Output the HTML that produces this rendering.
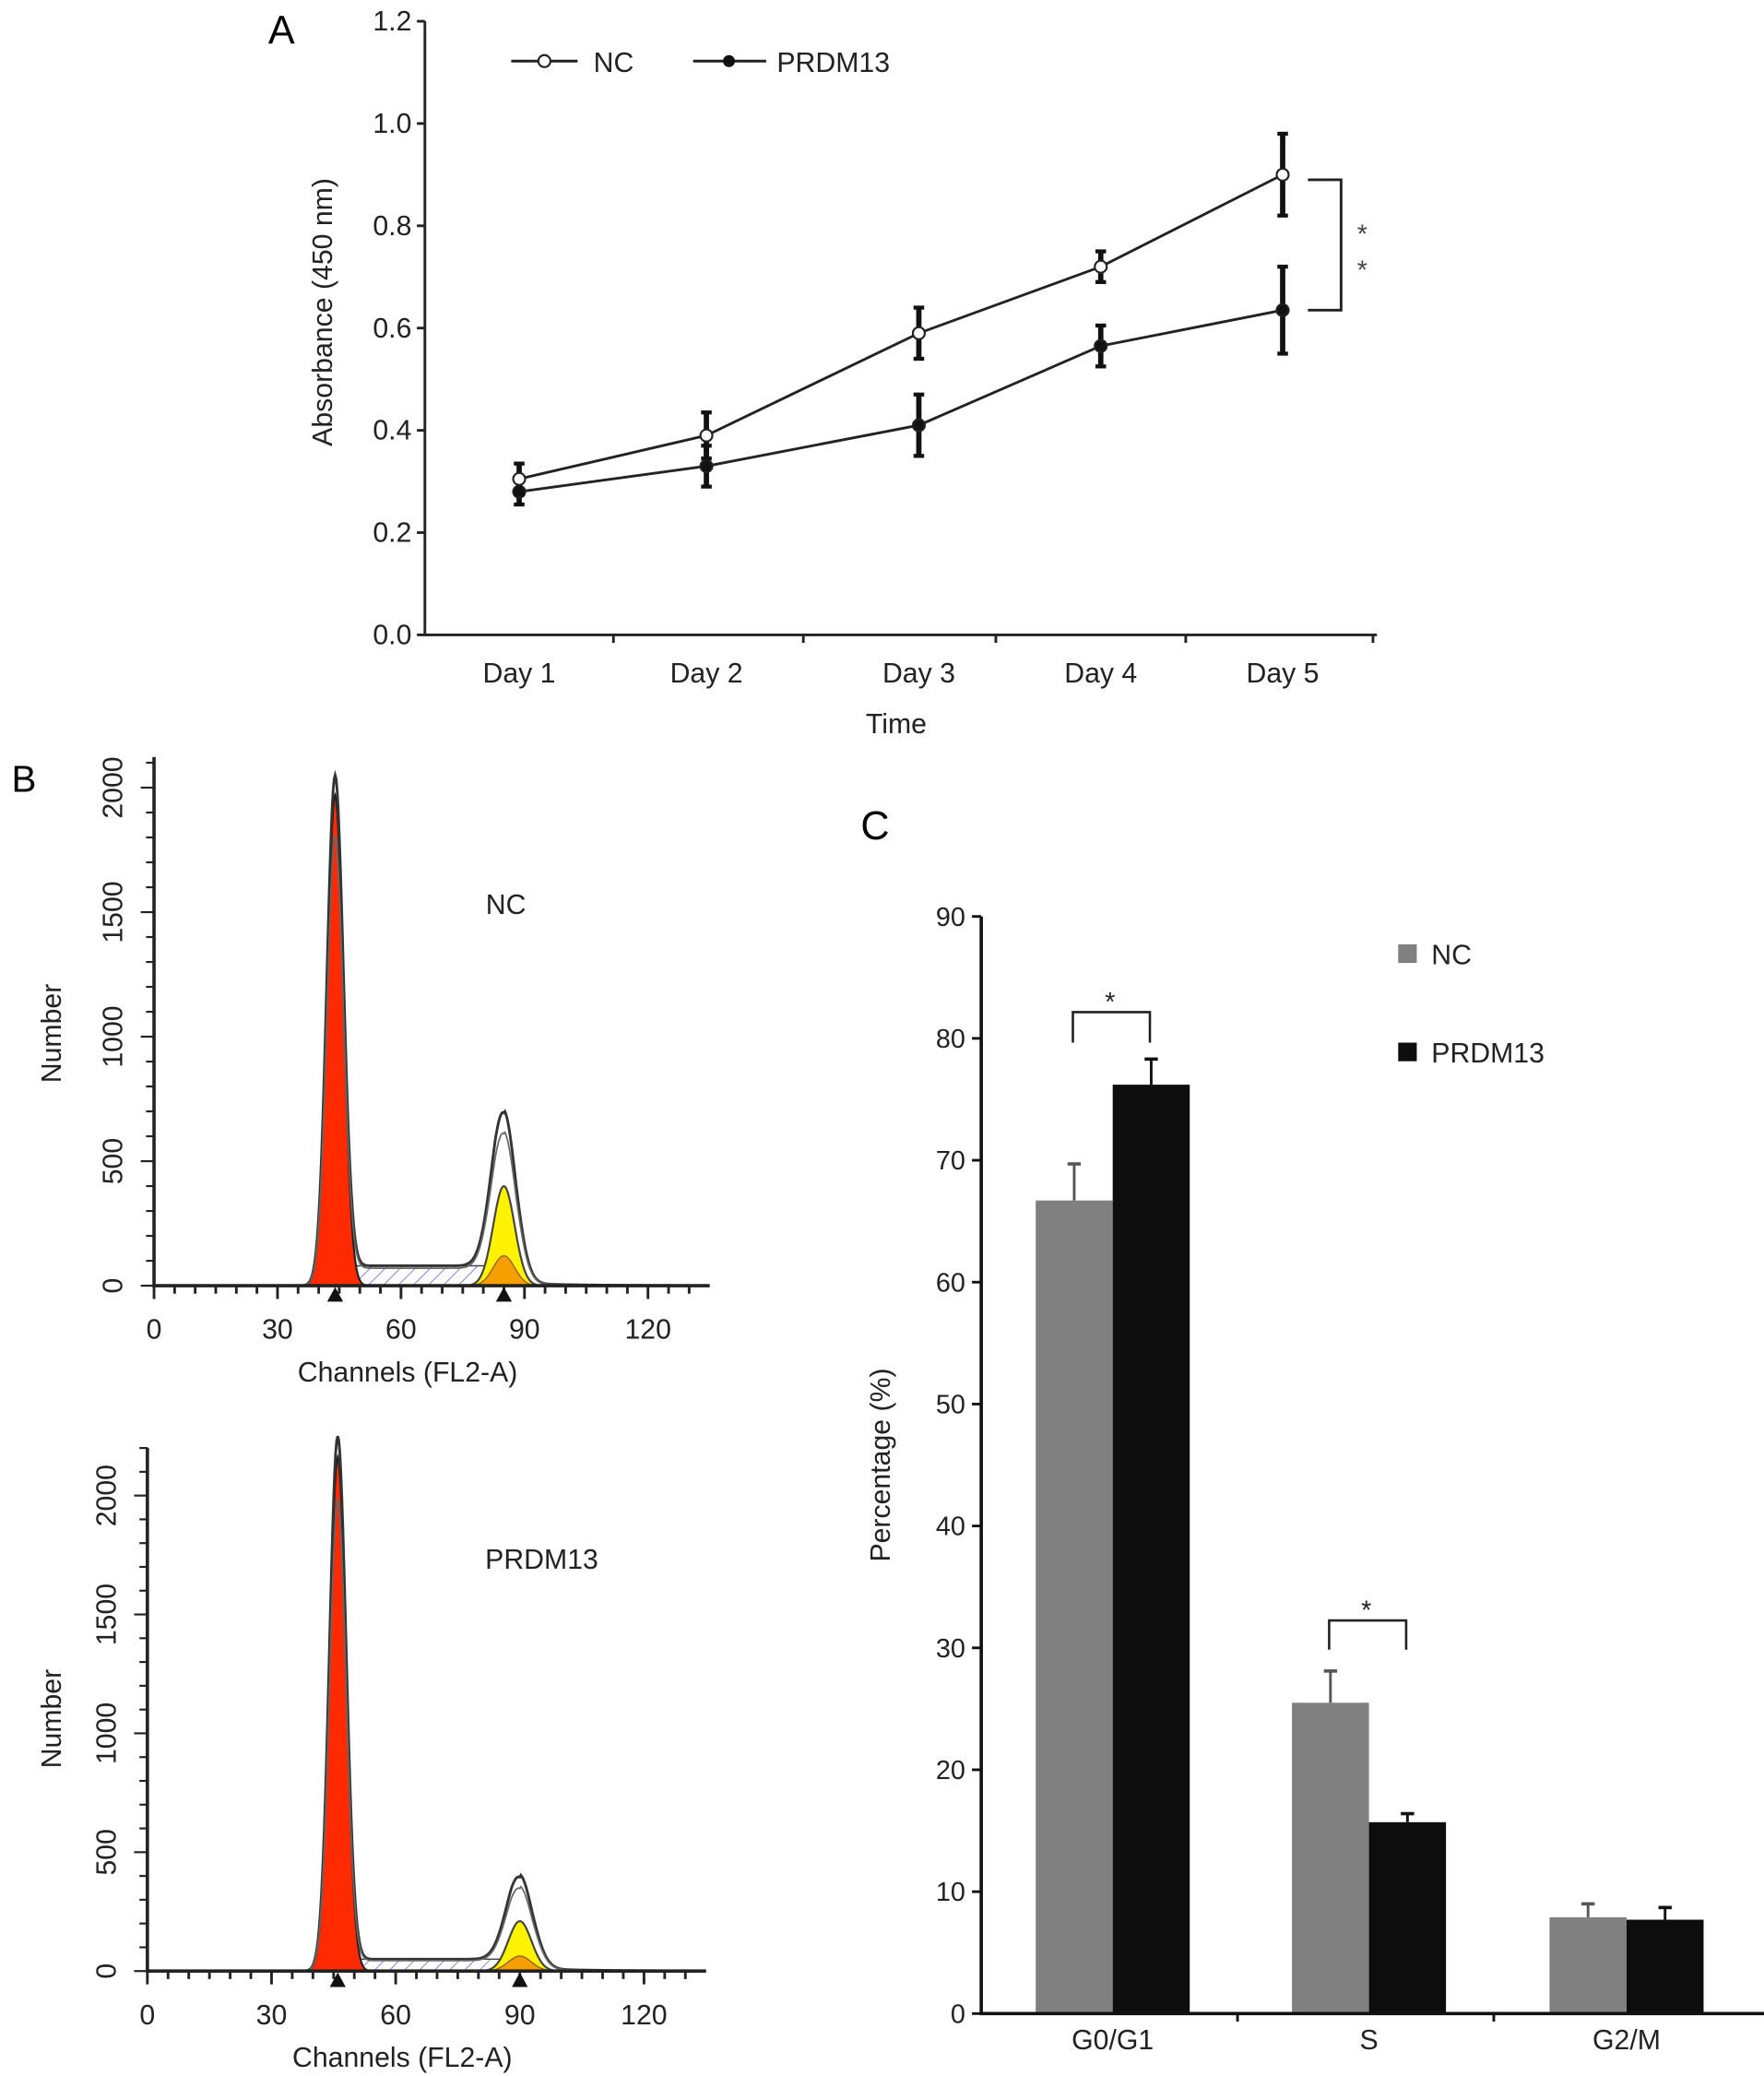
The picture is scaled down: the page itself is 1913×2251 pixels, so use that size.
<!DOCTYPE html>
<html><head><meta charset="utf-8"><style>
html,body{margin:0;padding:0;background:#fff}
svg{display:block;font-family:"Liberation Sans",Arial,sans-serif}
</style></head><body>
<svg id="fig" width="1913" height="2251" viewBox="0 0 1328.5 1563" preserveAspectRatio="none" xmlns="http://www.w3.org/2000/svg">
<rect width="1328.5" height="1563" fill="#fff"/>
<g id="pa"></g>
<g id="pb"></g>
<g id="pc"></g>
</svg>
<script>
// Panel A data
const daysA = ["Day 1","Day 2","Day 3","Day 4","Day 5"];
const ncA = [0.305,0.39,0.59,0.72,0.90];
const ncErrA = [0.03,0.045,0.05,0.03,0.08];
const prA = [0.28,0.33,0.41,0.565,0.635];
const prErrA = [0.025,0.04,0.06,0.04,0.085];
const ticksA = ["0.0","0.2","0.4","0.6","0.8","1.0","1.2"];
// Panel C data
const phasesC = ["G0/G1","S","G2/M"];
const ncC = [66.7,25.5,7.9];
const ncErrC = [3.0,2.6,1.1];
const prC = [76.2,15.7,7.7];
const prErrC = [2.1,0.7,1.0];
const ticksC = [0,10,20,30,40,50,60,70,80,90];
// Panel B data: [G1 channel, G1 height, G1 sigma, G2 channel, G2 total height, G2 fitted height, G2 sigma, S level]
const histNC = [44,2050,2.0,85,670,400,2.6,80];
const histPR = [46,2250,2.0,90,380,210,2.8,50];
const ticksBx = [0,30,60,90,120];
const ticksBy = [0,500,1000,1500,2000];

const NS="http://www.w3.org/2000/svg";
function mk(parent,tag,attrs,text){const e=document.createElementNS(NS,tag);for(const k in attrs)e.setAttribute(k,attrs[k]);if(text!==undefined)e.textContent=text;parent.appendChild(e);return e;}

// ---------- Panel A ----------
(function(){
const g=document.getElementById('pa');
const x0=320,x1=1037,yb=478,yt=16;
const y=v=>yb-(v/1.2)*(yb-yt);
const dayX=[391,532,692,829,966];
const xd=i=>dayX[i];
let t=mk(g,'text',{x:212,y:33,'font-size':30,'text-anchor':'middle'},'A');

let ax=mk(g,'path',{d:`M${x0} ${yt}V${yb}H${x1}`,stroke:'#222','stroke-width':2,fill:'none'});

ticksA.forEach((lab,i)=>{const v=parseFloat(lab);
 mk(g,'line',{x1:x0-6,x2:x0,y1:y(v),y2:y(v),stroke:'#222','stroke-width':2});
 const tt=mk(g,'text',{x:310,y:y(v)+7,'font-size':21,'text-anchor':'end',fill:'#222'},lab);
 });
[462,605,750,893,1034].forEach(px=>mk(g,'line',{x1:px,x2:px,y1:yb,y2:yb+6,stroke:'#222','stroke-width':2}));
daysA.forEach((d,i)=>{const tt=mk(g,'text',{x:xd(i),y:514,'font-size':21,'text-anchor':'middle',fill:'#222'},d);
 });
t=mk(g,'text',{x:675,y:552,'font-size':21,'text-anchor':'middle',fill:'#222'},'Time');

t=mk(g,'text',{x:0,y:0,'font-size':21,'text-anchor':'middle',fill:'#222',transform:'translate(250,235) rotate(-90)'},'Absorbance (450 nm)');

function series(vals,errs,open,name){
 const sg=mk(g,'g',{});
 mk(sg,'polyline',{points:vals.map((v,i)=>xd(i)+','+y(v)).join(' '),fill:'none',stroke:'#222','stroke-width':2});
 vals.forEach((v,i)=>{const X=xd(i);
  mk(sg,'line',{x1:X,x2:X,y1:y(v+errs[i]),y2:y(v-errs[i]),stroke:'#111','stroke-width':4});
  mk(sg,'line',{x1:X-4,x2:X+4,y1:y(v+errs[i]),y2:y(v+errs[i]),stroke:'#111','stroke-width':3});
  mk(sg,'line',{x1:X-4,x2:X+4,y1:y(v-errs[i]),y2:y(v-errs[i]),stroke:'#111','stroke-width':3});
  const c=mk(sg,'circle',{cx:X,cy:y(v),r:4.5,fill:open?'#fff':'#111',stroke:'#222','stroke-width':1.5});
  });
}
series(prA,prErrA,false,'prdm13-line');
series(ncA,ncErrA,true,'nc-line');
const bx=985,bx2=1010,ya=y(ncA[4]-0.01),yb2=y(prA[4]);
let br=mk(g,'path',{d:`M${bx} ${ya}H${bx2}V${yb2}H${bx}`,fill:'none',stroke:'#222','stroke-width':2});

mk(g,'text',{x:1026,y:183,'font-size':20,'text-anchor':'middle',fill:'#444'},'*');
mk(g,'text',{x:1026,y:210,'font-size':20,'text-anchor':'middle',fill:'#444'},'*');
const l1=mk(g,'g',{});
mk(l1,'line',{x1:385,x2:435,y1:46,y2:46,stroke:'#222','stroke-width':2});
mk(l1,'circle',{cx:410,cy:46,r:4.5,fill:'#fff',stroke:'#222','stroke-width':1.5});
mk(l1,'text',{x:447,y:54,'font-size':21,fill:'#222'},'NC');
const l2=mk(g,'g',{});
mk(l2,'line',{x1:522,x2:577,y1:46,y2:46,stroke:'#222','stroke-width':2});
mk(l2,'circle',{cx:549,cy:46,r:4.5,fill:'#111'});
mk(l2,'text',{x:585,y:54,'font-size':21,fill:'#222'},'PRDM13');
})();

// ---------- Panel B ----------
(function(){
const g=document.getElementById('pb');
let t=mk(g,'text',{x:18,y:596,'font-size':28,'text-anchor':'middle'},'B');

function hist(h,ax,base,y2000,top,xr,label,lx,ly,name){
 const sg=mk(g,'g',{});
 const sx=(xr-ax)/120;
 const X=c=>ax+c*sx, Y=v=>base-v*(base-y2000)/2000;
 const gauss=(c,m,s,hh)=>hh*Math.exp(-((c-m)*(c-m))/(2*s*s));
 const [m1,h1,s1,m2,hT,hF,s2,S]=h;
 const step=0.25;const cs=[];for(let c=0;c<=133;c+=step)cs.push(c);
 const sOf=c=>(c>m1+1&&c<m2-2)?S*Math.min(1,(c-m1-1)/3):(c>=m2-2&&c<m2+3?S*Math.max(0,(m2+3-c)/5):0);
 const defs=mk(sg,'defs',{});
 const pat=mk(defs,'pattern',{id:'hatch'+name,width:8,height:8,patternUnits:'userSpaceOnUse',patternTransform:'rotate(45)'});
 mk(pat,'line',{x1:0,y1:0,x2:0,y2:8,stroke:'#6a75d8','stroke-width':1.2});
 let d='M'+X(m1)+' '+base;cs.forEach(c=>{if(c>=m1&&c<=m2+3)d+=' L'+X(c)+' '+Y(sOf(c));});d+=' L'+X(m2+3)+' '+base+'Z';
 mk(sg,'path',{d:d,fill:'url(#hatch'+name+')',stroke:'#444','stroke-width':1});
 d='M'+X(m1-5*s1)+' '+base;cs.forEach(c=>{if(Math.abs(c-m1)<5*s1)d+=' L'+X(c)+' '+Y(gauss(c,m1,s1,h1*0.96));});d+='Z';
 let p=mk(sg,'path',{d:d,fill:'#ff2a00',stroke:'#222','stroke-width':1.5});
 
 d='M'+X(m2-4*s2)+' '+base;cs.forEach(c=>{if(Math.abs(c-m2)<4*s2)d+=' L'+X(c)+' '+Y(gauss(c,m2,s2,hF));});d+='Z';
 p=mk(sg,'path',{d:d,fill:'#fff200',stroke:'#444','stroke-width':1.5});
 
 d='M'+X(m2-4*s2)+' '+base;cs.forEach(c=>{if(Math.abs(c-m2)<4*s2)d+=' L'+X(c)+' '+Y(gauss(c,m2,s2,hF*0.3));});d+='Z';
 mk(sg,'path',{d:d,fill:'#f5a000',stroke:'#a06030','stroke-width':1});
 const env=c=>gauss(c,m1,s1,h1)+sOf(c)+gauss(c,m2,s2*1.15,hT-S*0.3)+(c>m2?12*Math.exp(-(c-m2)/15):0);
 d='';cs.forEach((c,i)=>{d+=(i?' L':'M')+X(c)+' '+Y(Math.max(0,env(c)));});
 p=mk(sg,'path',{d:d,fill:'none',stroke:'#333','stroke-width':2});
 
 d='';cs.forEach((c,i)=>{d+=(i?' L':'M')+X(c)+' '+Y(Math.max(0,env(c)*0.88));});
 mk(sg,'path',{d:d,fill:'none',stroke:'#666','stroke-width':1.2});
 mk(sg,'path',{d:`M${ax} ${top}V${base}H${X(135)}`,stroke:'#222','stroke-width':2.5,fill:'none'});
 for(let c=0;c<=132;c+=5)mk(sg,'line',{x1:X(c),x2:X(c),y1:base,y2:base+(c%30===0?10:6),stroke:'#222','stroke-width':2});
 for(let v=0;Y(v)>=top;v+=100)mk(sg,'line',{x1:ax-(v%500===0?10:6),x2:ax,y1:Y(v),y2:Y(v),stroke:'#222','stroke-width':1.5});
 ticksBx.forEach(c=>{const tt=mk(sg,'text',{x:X(c),y:base+40,'font-size':21,'text-anchor':'middle',fill:'#222'},String(c));
  });
 ticksBy.forEach(v=>{const tt=mk(sg,'text',{x:0,y:0,'font-size':21,'text-anchor':'middle',fill:'#222',transform:`translate(${ax-24},${Y(v)}) rotate(-90)`},String(v));
  });
 [m1,m2].forEach(c=>mk(sg,'path',{d:`M${X(c)-6} ${base+12}L${X(c)} ${base+1}L${X(c)+6} ${base+12}Z`,fill:'#111'}));
 let tt=mk(sg,'text',{x:(ax+xr)/2+5,y:base+72,'font-size':21,'text-anchor':'middle',fill:'#222'},'Channels (FL2-A)');
 
 tt=mk(sg,'text',{x:0,y:0,'font-size':21,'text-anchor':'middle',fill:'#222',transform:`translate(46,${base-190}) rotate(-90)`},'Number');
 
 tt=mk(sg,'text',{x:lx,y:ly,'font-size':21,'text-anchor':'middle',fill:'#222'},label);
 
}
hist(histNC,116,968,593,570,488,'NC',381,688,'histogram-nc');
hist(histPR,111,1484,1126,1090,485,'PRDM13',408,1181,'histogram-prdm13');
})();

// ---------- Panel C ----------
(function(){
const g=document.getElementById('pc');
const x0=739,yb=1516,yt=690,xe=1332;
const y=v=>yb-(v/90)*(yb-yt);
const centers=[838,1031,1225];const bw=58;
let t=mk(g,'text',{x:659,y:632,'font-size':30,'text-anchor':'middle'},'C');

phasesC.forEach((p,i)=>{
 const c=centers[i];
 [[ncC,ncErrC,'#808080',c-bw,'nc'],[prC,prErrC,'#0d0d0d',c,'prdm13']].forEach(([vals,errs,col,xl,nm])=>{
  const v=vals[i],e=errs[i];
  const r=mk(g,'rect',{x:xl,y:y(v),width:bw,height:yb-y(v),fill:col});
  
  const X=xl+bw/2;
  mk(g,'line',{x1:X,x2:X,y1:y(v),y2:y(v+e),stroke:col==='#808080'?'#555':'#111','stroke-width':2});
  mk(g,'line',{x1:X-5,x2:X+5,y1:y(v+e),y2:y(v+e),stroke:col==='#808080'?'#555':'#111','stroke-width':2.5});
 });
 const tt=mk(g,'text',{x:c,y:1543,'font-size':21,'text-anchor':'middle',fill:'#222'},p);
 
});
mk(g,'path',{d:`M${x0} ${yt}V${yb}H${xe}`,stroke:'#111','stroke-width':2.5,fill:'none'});
[932,1125,1330].forEach(px=>mk(g,'line',{x1:px,x2:px,y1:yb,y2:yb+6,stroke:'#111','stroke-width':2}));
ticksC.forEach(v=>{mk(g,'line',{x1:x0-7,x2:x0,y1:y(v),y2:y(v),stroke:'#111','stroke-width':2});
 const tt=mk(g,'text',{x:727,y:y(v)+7,'font-size':20,'text-anchor':'end',fill:'#222'},String(v));
 });
t=mk(g,'text',{x:0,y:0,'font-size':21,'text-anchor':'middle',fill:'#222',transform:'translate(670,1103) rotate(-90)'},'Percentage (%)');

[[0,762,785],[1,1220,1242]].forEach(([i,yy,yd])=>{const c=centers[i];
 const b=mk(g,'path',{d:`M${c-30} ${yd}V${yy}H${c+28}V${yd}`,fill:'none',stroke:'#222','stroke-width':1.8});
 
 mk(g,'text',{x:c-2,y:yy-1,'font-size':20,'text-anchor':'middle',fill:'#222'},'*');});
const l1=mk(g,'g',{});
mk(l1,'rect',{x:1053,y:711,width:14,height:14,fill:'#808080'});
mk(l1,'text',{x:1078,y:726,'font-size':21,fill:'#222'},'NC');
const l2=mk(g,'g',{});
mk(l2,'rect',{x:1053,y:785,width:14,height:14,fill:'#0d0d0d'});
mk(l2,'text',{x:1078,y:800,'font-size':21,fill:'#222'},'PRDM13');
})();
</script>
</body></html>
